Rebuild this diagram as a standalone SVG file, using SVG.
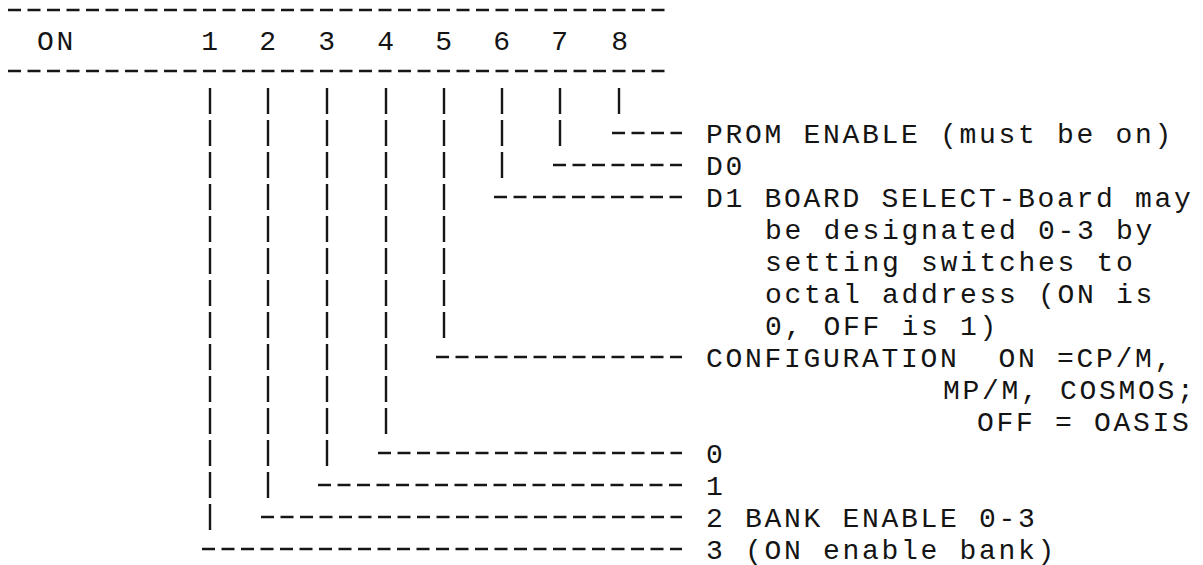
<svg xmlns="http://www.w3.org/2000/svg" width="1203" height="565" viewBox="0 0 1203 565">
<style>
  text { font-family: "Liberation Mono", "Courier New", monospace; font-size: 28px; letter-spacing: 2.7px; fill: #141414; white-space: pre; }
  .hd { stroke: #161616; stroke-width: 2.4; stroke-dasharray: 13 6.5; fill: none; }
  .v { stroke: #161616; stroke-width: 2.4; stroke-dasharray: 26 6; fill: none; }
</style>
<rect width="1203" height="565" fill="#ffffff"/>

<g id="header">
  <line class="hd" x1="8" y1="10" x2="666" y2="10"/>
  <line class="hd" x1="8" y1="71" x2="666" y2="71"/>
  <text x="37" y="50">ON</text>
  <g text-anchor="middle">
    <text x="211" y="50">1</text>
    <text x="269" y="50">2</text>
    <text x="328" y="50">3</text>
    <text x="387" y="50">4</text>
    <text x="445" y="50">5</text>
    <text x="503" y="50">6</text>
    <text x="561" y="50">7</text>
    <text x="621" y="50">8</text>
  </g>
</g>

<g id="connectors">
  <!-- vertical switch bars -->
  <line class="v" x1="619" y1="88" x2="619" y2="114"/>
  <line class="v" x1="560" y1="88" x2="560" y2="146"/>
  <line class="v" x1="502" y1="88" x2="502" y2="178"/>
  <line class="v" x1="444" y1="88" x2="444" y2="338"/>
  <line class="v" x1="386" y1="88" x2="386" y2="434"/>
  <line class="v" x1="327" y1="88" x2="327" y2="466"/>
  <line class="v" x1="268" y1="88" x2="268" y2="498"/>
  <line class="v" x1="210" y1="88" x2="210" y2="530"/>
  <!-- horizontal leaders -->
  <line class="hd" x1="612" y1="133" x2="682" y2="133"/>
  <line class="hd" x1="553" y1="165" x2="682" y2="165"/>
  <line class="hd" x1="494" y1="197" x2="682" y2="197"/>
  <line class="hd" x1="436" y1="357" x2="682" y2="357"/>
  <line class="hd" x1="378" y1="453" x2="682" y2="453"/>
  <line class="hd" x1="318" y1="485" x2="682" y2="485"/>
  <line class="hd" x1="261" y1="517" x2="682" y2="517"/>
  <line class="hd" x1="202" y1="549" x2="682" y2="549"/>
</g>

<g id="label-prom"><text x="706" y="143">PROM ENABLE (must be on)</text></g>
<g id="label-d0"><text x="706" y="175">D0</text></g>
<g id="label-d1">
  <text x="706" y="207">D1 BOARD SELECT-Board may</text>
  <text x="765" y="239">be designated 0-3 by</text>
  <text x="765" y="271">setting switches to</text>
  <text x="765" y="303">octal address (ON is</text>
  <text x="765" y="335">0, OFF is 1)</text>
</g>
<g id="label-config">
  <text x="706" y="367">CONFIGURATION  ON =CP/M,</text>
  <text x="943" y="399">MP/M, COSMOS;</text>
  <text x="977" y="431">OFF = OASIS</text>
</g>
<g id="label-0"><text x="706" y="463">0</text></g>
<g id="label-1"><text x="706" y="495">1</text></g>
<g id="label-2"><text x="706" y="527">2 BANK ENABLE 0-3</text></g>
<g id="label-3"><text x="706" y="559">3 (ON enable bank)</text></g>
</svg>
